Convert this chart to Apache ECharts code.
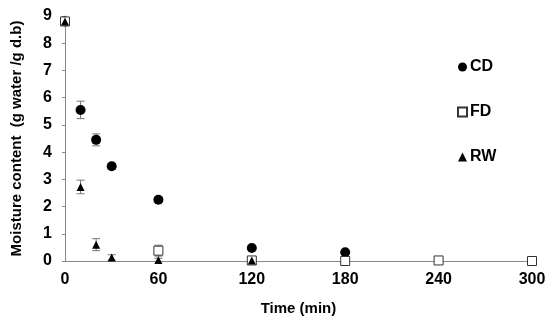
<!DOCTYPE html>
<html><head><meta charset="utf-8">
<script src="https://cdn.jsdelivr.net/npm/echarts@6/dist/echarts.min.js"></script>
<style>html,body{margin:0;padding:0;background:#fff}#c{width:550px;height:324px}</style>
</head><body><div id="c"></div>
<script>
const cdTime = [0, 10, 20, 30, 60, 120, 180];
const cdValue = [8.8, 5.55, 4.45, 3.48, 2.25, 0.48, 0.32];
const cdErr = [0.1, 0.32, 0.22, 0.1, 0.08, 0.04, 0.04];
const fdTime = [0, 60, 120, 180, 240, 300];
const fdValue = [8.8, 0.38, 0.02, 0.0, 0.02, 0.0];
const fdErr = [0.12, 0.2, 0.05, 0.03, 0.08, 0.03];
const rwTime = [0, 10, 20, 30, 60, 120];
const rwValue = [8.8, 2.72, 0.6, 0.13, 0.04, 0.02];
const rwErr = [0.12, 0.25, 0.22, 0.1, 0.06, 0.03];
const xTicks = [0, 60, 120, 180, 240, 300];
const yTicks = [0, 1, 2, 3, 4, 5, 6, 7, 8, 9];

const F = 'Liberation Sans, Arial, sans-serif';
function errSeries(t, v, e) {
  return {
    type: 'custom', silent: true, z: 1,
    data: t.map((x, i) => [x, v[i] - e[i], v[i] + e[i]]),
    renderItem: function (params, api) {
      const lo = api.coord([api.value(0), api.value(1)]);
      const hi = api.coord([api.value(0), api.value(2)]);
      const w = 4;
      const st = { stroke: '#777', lineWidth: 1 };
      return { type: 'group', children: [
        { type: 'line', shape: { x1: lo[0], y1: lo[1], x2: hi[0], y2: hi[1] }, style: st },
        { type: 'line', shape: { x1: lo[0] - w, y1: lo[1], x2: lo[0] + w, y2: lo[1] }, style: st },
        { type: 'line', shape: { x1: hi[0] - w, y1: hi[1], x2: hi[0] + w, y2: hi[1] }, style: st }
      ]};
    }
  };
}
const chart = echarts.init(document.getElementById('c'));
chart.setOption({
  animation: false,
  grid: { left: 65, right: 18, top: 16, bottom: 63 },
  xAxis: {
    type: 'value', min: 0, max: 300, interval: 60,
    name: 'Time (min)', nameLocation: 'middle', nameGap: 40,
    nameTextStyle: { fontFamily: F, fontWeight: 'bold', fontSize: 15, color: '#000' },
    axisLine: { lineStyle: { color: '#888' } },
    axisTick: { show: false },
    splitLine: { show: false },
    axisLabel: { fontFamily: F, fontWeight: 'bold', fontSize: 16, color: '#000', margin: 11,
      formatter: v => xTicks.includes(v) ? String(v) : '' }
  },
  yAxis: {
    type: 'value', min: 0, max: 9, interval: 1,
    name: 'Moisture content  (g water /g d.b)', nameLocation: 'middle', nameGap: 41,
    nameTextStyle: { fontFamily: F, fontWeight: 'bold', fontSize: 15, color: '#000' },
    axisLine: { show: true, lineStyle: { color: '#888' } },
    axisTick: { show: true, length: 3, lineStyle: { color: '#888' } },
    splitLine: { show: false },
    axisLabel: { fontFamily: F, fontWeight: 'bold', fontSize: 16, color: '#000', margin: 13,
      formatter: v => yTicks.includes(v) ? String(v) : '' }
  },
  legend: {
    orient: 'vertical', left: 452, top: 54, itemGap: 29, itemWidth: 9, itemHeight: 9,
    textStyle: { fontFamily: F, fontWeight: 'bold', fontSize: 16, color: '#000', padding: [0, 0, 0, -2] },
    data: ['CD', 'FD', 'RW']
  },
  series: [
    errSeries(cdTime, cdValue, cdErr),
    errSeries(fdTime, fdValue, fdErr),
    errSeries(rwTime, rwValue, rwErr),
    { name: 'CD', type: 'scatter', z: 3, symbol: 'circle', symbolSize: 10,
      itemStyle: { color: '#000', opacity: 1 }, data: cdTime.map((t, i) => [t, cdValue[i]]) },
    { name: 'FD', type: 'scatter', z: 4, symbol: 'rect', symbolSize: 9,
      itemStyle: { color: '#fff', borderColor: '#333', borderWidth: 1, opacity: 1 }, data: fdTime.map((t, i) => [t, fdValue[i]]) },
    { name: 'RW', type: 'scatter', z: 5, symbol: 'triangle', symbolSize: 8,
      itemStyle: { color: '#000', opacity: 1 }, data: rwTime.map((t, i) => [t, rwValue[i]]) }
  ]
});
</script></body></html>
